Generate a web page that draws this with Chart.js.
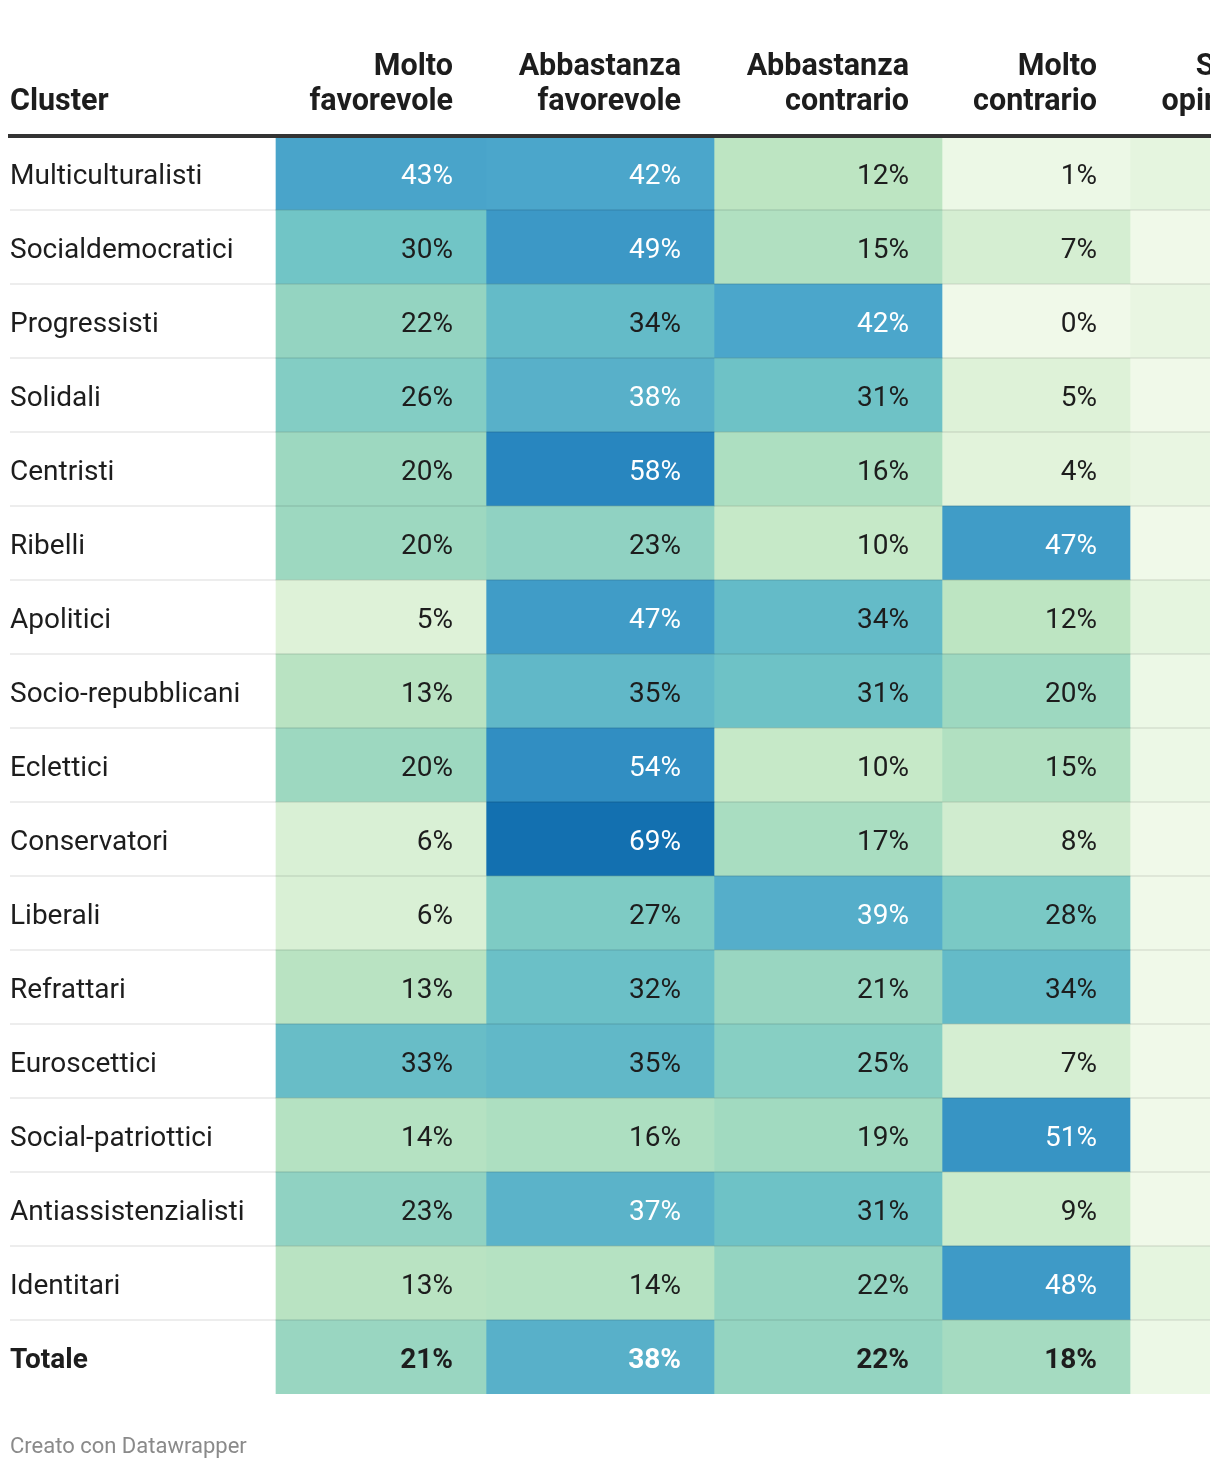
<!DOCTYPE html>
<html>
<head>
<meta charset="utf-8">
<script src="https://cdn.jsdelivr.net/npm/chart.js@4"></script>
<style>
  html, body { margin: 0; padding: 0; background: #fff; }
  canvas { display: block; }
</style>
</head>
<body>
<canvas id="heatmap" width="1220" height="1470"></canvas>
<script>
// --- data ---
const clusters = [
    'Multiculturalisti', 'Socialdemocratici', 'Progressisti', 'Solidali', 'Centristi',
    'Ribelli', 'Apolitici', 'Socio-repubblicani', 'Eclettici', 'Conservatori',
    'Liberali', 'Refrattari', 'Euroscettici', 'Social-patriottici',
    'Antiassistenzialisti', 'Identitari', 'Totale'
];
const columns = [
    ['Molto', 'favorevole'],
    ['Abbastanza', 'favorevole'],
    ['Abbastanza', 'contrario'],
    ['Molto', 'contrario'],
    ['Senza', 'opinione']
];
const moltoFavorevole      = [43, 30, 22, 26, 20, 20, 5, 13, 20, 6, 6, 13, 33, 14, 23, 13, 21];
const abbastanzaFavorevole = [42, 49, 34, 38, 58, 23, 47, 35, 54, 69, 27, 32, 35, 16, 37, 14, 38];
const abbastanzaContrario  = [12, 15, 42, 31, 16, 10, 34, 31, 10, 17, 39, 21, 25, 19, 31, 22, 22];
const moltoContrario       = [1, 7, 0, 5, 4, 47, 12, 20, 15, 8, 28, 34, 7, 51, 9, 48, 18];
const senzaOpinione        = [3, 0, 2, 0, 2, 0, 3, 1, 1, 0, 0, 0, 0, 0, 0, 3, 1];

const seriesValues = [moltoFavorevole, abbastanzaFavorevole, abbastanzaContrario, moltoContrario, senzaOpinione];

// --- layout (px) ---
const labelColWidth = 266;
const colWidths = [210, 228, 228, 188, 183];
const textPad = 33;

const colStart = [];
let acc = labelColWidth;
colWidths.forEach(w => { colStart.push(acc); acc += w; });

// GnBu-like colour scale
const colorStops = [
    [0, '#f0f9e9'], [5, '#def2d8'], [12, '#bde5c2'], [20, '#9dd8c0'],
    [30, '#71c5c6'], [42, '#4ba6cb'], [58, '#2886bf'], [69, '#1370b0']
];
function hexToRgb(h) {
    return [1, 3, 5].map(i => parseInt(h.slice(i, i + 2), 16));
}
function cellColor(v) {
    for (let i = 1; i < colorStops.length; i++) {
        const [v0, c0] = colorStops[i - 1];
        const [v1, c1] = colorStops[i];
        if (v <= v1) {
            const t = (v - v0) / (v1 - v0);
            const a = hexToRgb(c0), b = hexToRgb(c1);
            const rgb = a.map((x, k) => Math.round(x + (b[k] - x) * t));
            return `rgb(${rgb[0]}, ${rgb[1]}, ${rgb[2]})`;
        }
    }
    return colorStops[colorStops.length - 1][1];
}

const datasets = seriesValues.map((vals, c) => ({
    label: columns[c].join(' '),
    data: vals.map(() => [colStart[c], colStart[c] + colWidths[c]]),
    backgroundColor: vals.map(cellColor),
    borderWidth: 0,
    grouped: false,
    barPercentage: 1,
    categoryPercentage: 1
}));

// headers + cell values, placed with the scales
const cellLabels = {
    id: 'cellLabels',
    afterDraw(chart) {
        const { ctx, chartArea, scales: { x, y } } = chart;
        ctx.save();
        ctx.beginPath();
        ctx.rect(0, 0, chartArea.right, chart.height);
        ctx.clip();

        ctx.fillStyle = '#1d1d1d';
        ctx.font = 'bold 30.5px Roboto';
        ctx.textBaseline = 'alphabetic';
        ctx.textAlign = 'left';
        ctx.fillText('Cluster', x.getPixelForValue(0), chartArea.top - 26);
        ctx.textAlign = 'right';
        columns.forEach((lines, c) => {
            const xr = x.getPixelForValue(colStart[c] + colWidths[c] - textPad);
            ctx.fillText(lines[0], xr, chartArea.top - 61);
            ctx.fillText(lines[1], xr, chartArea.top - 26);
        });

        ctx.textBaseline = 'middle';
        seriesValues.forEach((vals, c) => {
            const xr = x.getPixelForValue(colStart[c] + colWidths[c] - textPad);
            vals.forEach((v, i) => {
                ctx.font = (i === clusters.length - 1 ? 'bold ' : '') + '28px Roboto';
                ctx.fillStyle = v >= 36 ? '#ffffff' : '#1d1d1d';
                ctx.fillText(v + '%', xr, y.getPixelForValue(i) + 4);
            });
        });
        ctx.restore();
    }
};

new Chart(document.getElementById('heatmap').getContext('2d'), {
    type: 'bar',
    data: { labels: clusters, datasets: datasets },
    options: {
        indexAxis: 'y',
        responsive: false,
        animation: false,
        devicePixelRatio: 1,
        layout: { padding: { left: 10, right: 10, top: 136, bottom: 0 } },
        scales: {
            x: {
                type: 'linear',
                position: 'top',
                min: 0,
                max: 1200,
                ticks: { display: false },
                grid: { display: false },
                border: { display: true, color: '#333333', width: 4, z: 2 },
                afterFit: scale => { scale.height = 0; }
            },
            y: {
                type: 'category',
                ticks: {
                    mirror: true,
                    padding: 0,
                    labelOffset: 4,
                    autoSkip: false,
                    color: '#1d1d1d',
                    font: ctx => ({
                        family: 'Roboto',
                        size: 28,
                        weight: ctx.index === clusters.length - 1 ? 'bold' : 'normal'
                    })
                },
                grid: {
                    drawTicks: false,
                    lineWidth: 2,
                    z: 1,
                    color: ctx => (ctx.type === 'tick' && ctx.index > 0) ? 'rgba(0, 0, 0, 0.07)' : 'rgba(0, 0, 0, 0)'
                },
                border: { display: false },
                afterFit: scale => { scale.width = 0; }
            }
        },
        plugins: {
            legend: { display: false },
            tooltip: { enabled: false },
            title: {
                display: true,
                text: 'Creato con Datawrapper',
                position: 'bottom',
                align: 'start',
                color: '#8a8a8a',
                font: { family: 'Roboto', size: 22, weight: 'normal' },
                padding: { top: 40, bottom: 9.6 }
            }
        }
    },
    plugins: [cellLabels]
});
</script>
</body>
</html>
